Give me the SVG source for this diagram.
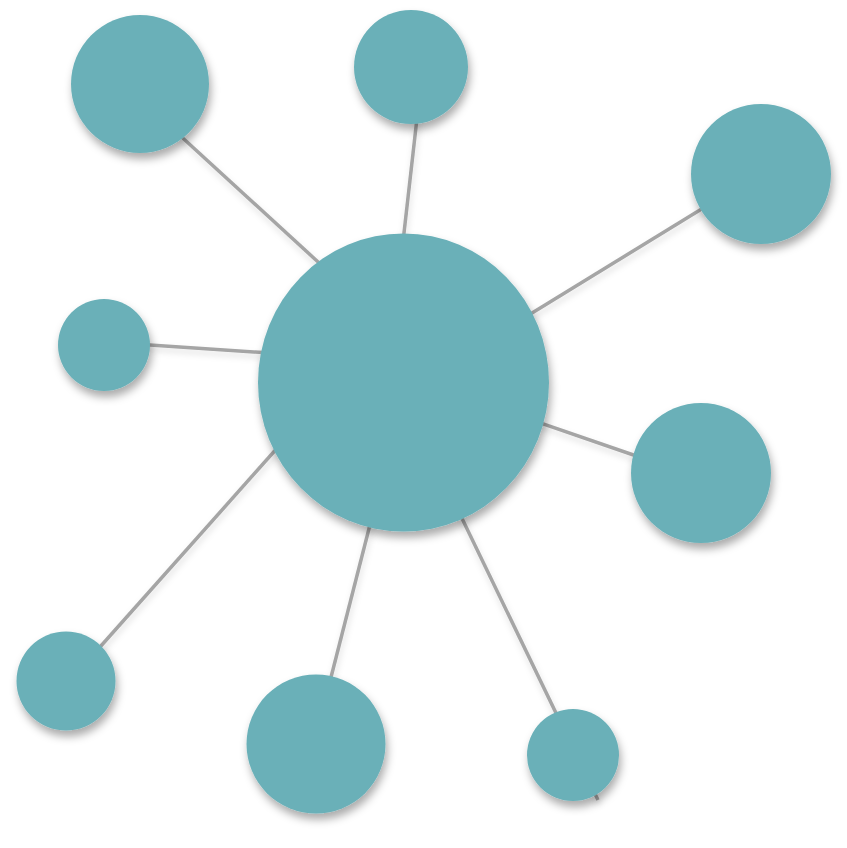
<svg xmlns="http://www.w3.org/2000/svg" width="847" height="848" viewBox="0 0 847 848">
<defs>
<filter id="sh" x="-30%" y="-30%" width="160%" height="170%">
<feDropShadow dx="2" dy="6" stdDeviation="4" flood-color="#000" flood-opacity="0.33"/>
</filter>
<filter id="lsh" x="-20%" y="-20%" width="140%" height="140%">
<feDropShadow dx="1" dy="4" stdDeviation="3" flood-color="#000" flood-opacity="0.13"/>
</filter>
<style>
.n{fill:#6ab0b8;filter:url(#sh)}
.c line{stroke:#a5a5a5;stroke-width:3.5;stroke-linecap:butt}
</style>
</defs>
<rect width="847" height="848" fill="#fff"/>
<g id="connectors" class="c" filter="url(#lsh)">
<line x1="329" y1="272" x2="174" y2="130"/>
<line x1="402.3" y1="248" x2="417.7" y2="112"/>
<line x1="519" y1="321" x2="713" y2="202"/>
<line x1="275" y1="353.3" x2="135" y2="344"/>
<line x1="530" y1="419.4" x2="648" y2="460"/>
<line x1="283" y1="441.5" x2="92" y2="656"/>
<line x1="373" y1="513" x2="328" y2="689"/>
<line x1="456" y1="506" x2="598" y2="800"/>
</g>
<g id="node-center"><ellipse class="n" cx="403.5" cy="382.5" rx="145.5" ry="149"/></g>
<g id="node-topleft"><circle class="n" cx="140" cy="84" r="69"/></g>
<g id="node-top"><circle class="n" cx="411" cy="67" r="57"/></g>
<g id="node-topright"><circle class="n" cx="761" cy="174" r="70"/></g>
<g id="node-left"><circle class="n" cx="104" cy="345" r="46"/></g>
<g id="node-right"><circle class="n" cx="701" cy="473" r="70"/></g>
<g id="node-bottomleft"><circle class="n" cx="66" cy="681" r="49.5"/></g>
<g id="node-bottom"><circle class="n" cx="316" cy="744" r="69.5"/></g>
<g id="node-bottomright"><circle class="n" cx="573" cy="755" r="46"/></g>
</svg>
